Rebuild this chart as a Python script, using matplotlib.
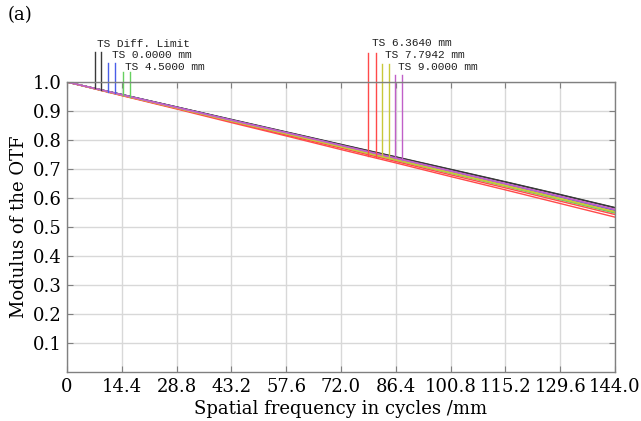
import numpy as np
import matplotlib
matplotlib.use("Agg")
import matplotlib.pyplot as plt

# spatial frequency samples (cycles/mm)
freq = [0, 14.4, 28.8, 43.2, 57.6, 72.0, 86.4, 100.8, 115.2, 129.6, 144.0]

# MTF readings, tangential / sagittal per field
diffT = [1.0, 0.957, 0.914, 0.871, 0.828, 0.785, 0.742, 0.699, 0.656, 0.612, 0.567]
diffS = [1.0, 0.957, 0.914, 0.870, 0.827, 0.784, 0.741, 0.698, 0.655, 0.611, 0.566]
f0T = [1.0, 0.956, 0.912, 0.868, 0.824, 0.780, 0.736, 0.692, 0.648, 0.603, 0.557]
f0S = [1.0, 0.956, 0.912, 0.868, 0.824, 0.780, 0.736, 0.692, 0.648, 0.603, 0.557]
f45T = [1.0, 0.955, 0.910, 0.865, 0.820, 0.775, 0.730, 0.685, 0.640, 0.594, 0.548]
f45S = [1.0, 0.955, 0.911, 0.866, 0.821, 0.777, 0.732, 0.687, 0.642, 0.597, 0.551]
f64T = [1.0, 0.953, 0.907, 0.860, 0.814, 0.767, 0.721, 0.674, 0.628, 0.581, 0.534]
f64S = [1.0, 0.954, 0.909, 0.863, 0.817, 0.772, 0.726, 0.680, 0.635, 0.589, 0.543]
f78T = [1.0, 0.955, 0.911, 0.866, 0.822, 0.777, 0.733, 0.688, 0.644, 0.599, 0.553]
f78S = [1.0, 0.955, 0.910, 0.865, 0.821, 0.776, 0.731, 0.687, 0.642, 0.597, 0.552]
f90T = [1.0, 0.956, 0.913, 0.869, 0.826, 0.782, 0.738, 0.694, 0.650, 0.606, 0.561]
f90S = [1.0, 0.956, 0.912, 0.868, 0.825, 0.781, 0.737, 0.693, 0.649, 0.605, 0.560]

labels = ["TS Diff. Limit", "TS 0.0000 mm", "TS 4.5000 mm",
          "TS 6.3640 mm", "TS 7.7942 mm", "TS 9.0000 mm"]
colors = ["#3a3a3a", "#4a5ee8", "#66d060", "#ff4a4a", "#c8c83a", "#c060c8"]
series = [(diffT, diffS), (f0T, f0S), (f45T, f45S), (f64T, f64S), (f78T, f78S), (f90T, f90S)]

# legend pointer lines: x positions of T/S pointers, top of line, label anchor
pointerX = [(7.4, 8.9), (10.8, 12.6), (14.7, 16.6), (79.1, 81.2), (82.8, 84.6), (86.2, 88.0)]
pointerTop = [1.103, 1.066, 1.034, 1.100, 1.062, 1.024]
labelPos = [(7.9, 1.132), (11.8, 1.092), (15.2, 1.052), (80.2, 1.135), (83.6, 1.094), (87.0, 1.053)]

xticks = [0, 14.4, 28.8, 43.2, 57.6, 72.0, 86.4, 100.8, 115.2, 129.6, 144.0]
xtickLabels = ["0", "14.4", "28.8", "43.2", "57.6", "72.0", "86.4", "100.8", "115.2", "129.6", "144.0"]
yticks = [0.1, 0.2, 0.3, 0.4, 0.5, 0.6, 0.7, 0.8, 0.9, 1.0]

plt.rcParams["font.family"] = "DejaVu Serif"

fig = plt.figure(figsize=(6.41, 4.21), dpi=100)
ax = fig.add_axes([0.1045, 0.1164, 0.855, 0.6888])

for (t, s), c in zip(series, colors):
    ax.plot(freq, s, color=c, lw=1.0)
    ax.plot(freq, t, color=c, lw=1.0)

for (t, s), c, (px1, px2), top, (lx, ly), lab in zip(series, colors, pointerX, pointerTop, labelPos, labels):
    for px, curve in ((px1, t), (px2, s)):
        yb = np.interp(px, freq, curve)
        ax.plot([px, px], [yb, top], color=c, lw=1.0, clip_on=False)
    ax.text(lx, ly, lab, family="Liberation Mono", fontsize=8, ha="left", va="center",
            color="#202020", clip_on=False)

ax.set_xlim(0, 144)
ax.set_ylim(0, 1.0)
ax.set_xticks(xticks)
ax.set_xticklabels(xtickLabels)
ax.set_yticks(yticks)
ax.set_yticklabels(["%.1f" % v for v in yticks])
ax.grid(True, color="#d8d8d8", lw=1.0)
ax.set_axisbelow(True)
ax.tick_params(direction="in", length=4, color="#808080", labelsize=13, pad=4,
               top=True, right=True)
for sp in ax.spines.values():
    sp.set_color("#808080")
    sp.set_linewidth(1.0)

ax.set_xlabel("Spatial frequency in cycles /mm", fontsize=13, labelpad=3)
ax.set_ylabel("Modulus of the OTF", fontsize=13, labelpad=3)
fig.text(0.012, 0.965, "(a)", fontsize=13, ha="left", va="center")

fig.savefig("out.png", dpi=100)
